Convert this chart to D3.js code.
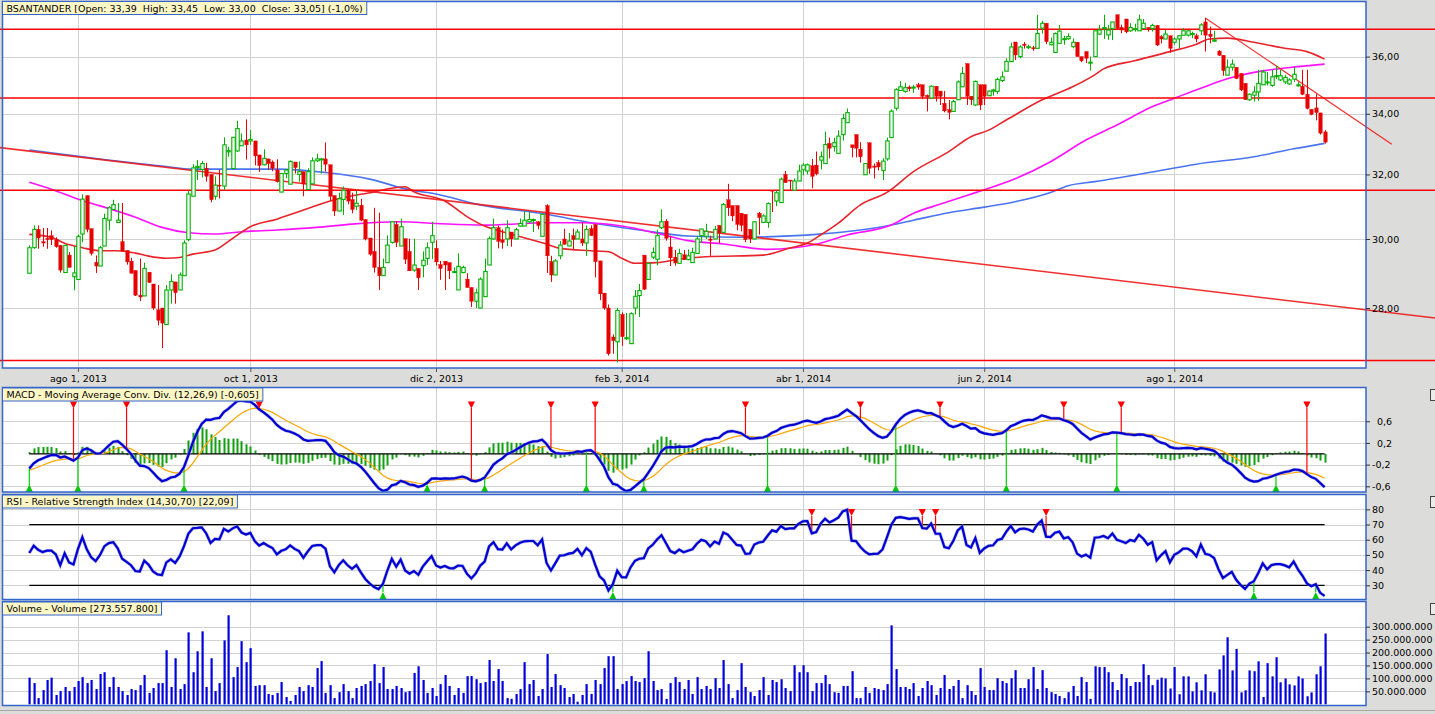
<!DOCTYPE html>
<html lang="es">
<head>
<meta charset="UTF-8">
<style>
  body { margin: 0; background: #dcdcda; }
  svg text { font-family: "DejaVu Sans", sans-serif; font-size: 9.5px; fill: #000; }
</style>
</head>
<body>
<div id="chart"></div>
<script src="https://cdnjs.cloudflare.com/ajax/libs/d3/7.8.5/d3.min.js"></script>
<script>
// ---- data ----
// daily candles: [open, high, low, close]
var candles = [
[28.99,29.81,28.99,29.74],[29.74,30.41,29.71,30.29],[30.29,30.41,29.71,30.03],[29.92,30.33,29.77,29.88],[30.02,30.33,29.71,29.98],
[30.10,30.26,29.82,29.98],[29.98,30.05,29.74,29.77],[29.81,29.81,29.01,29.08],[29.01,29.83,29.01,29.81],[29.52,29.61,29.16,29.16],
[28.89,29.79,28.50,29.00],[28.81,30.13,28.81,30.08],[30.15,31.37,29.90,31.22],[31.33,31.33,30.20,30.29],[30.31,30.31,29.51,29.57],
[29.31,29.51,29.00,29.20],[29.20,29.79,29.20,29.74],[29.79,30.77,29.79,30.62],[30.57,31.00,30.26,30.95],[30.90,31.20,30.90,31.05],
[30.50,31.10,30.49,30.57],[29.92,31.10,29.64,29.64],[29.66,29.66,29.24,29.32],[29.34,29.44,28.99,28.99],[29.07,29.07,28.34,28.36],
[28.36,29.42,28.20,28.31],[28.34,29.30,28.34,29.13],[29.02,29.02,28.72,28.72],[28.68,28.68,27.95,28.00],[27.95,28.65,27.52,27.66],
[28.00,28.00,26.90,27.58],[27.54,28.65,27.54,28.51],[28.51,28.96,28.12,28.75],[28.74,28.74,28.12,28.43],[28.51,29.01,28.51,28.94],
[28.92,29.96,28.92,29.88],[29.98,31.48,29.93,31.38],[31.31,32.33,31.31,32.21],[32.22,32.46,31.82,32.26],[32.16,32.43,31.90,32.35],
[32.19,32.37,31.77,31.94],[32.00,32.00,31.12,31.20],[31.31,31.94,31.20,31.66],[31.66,32.15,31.24,31.63],[31.63,33.21,31.51,32.96],
[32.73,32.90,32.57,32.77],[32.19,33.21,32.19,33.21],[32.76,33.76,32.73,33.50],[32.93,33.34,32.93,33.09],[33.12,33.81,32.48,32.96],
[33.09,33.45,32.96,33.14],[33.09,33.09,32.29,32.60],[32.63,32.63,32.08,32.29],[32.31,32.81,32.29,32.52],[32.50,32.50,32.15,32.35],
[32.40,32.45,32.10,32.20],[32.14,32.49,31.74,31.77],[31.44,32.03,31.44,32.03],[32.03,32.17,31.88,32.14],[31.69,32.45,31.69,32.42],
[32.40,32.40,32.03,32.22],[32.00,32.42,31.77,32.09],[32.09,32.09,31.31,31.70],[31.52,32.20,31.52,32.09],[31.70,32.55,31.70,32.44],
[32.44,32.67,32.40,32.50],[32.48,32.53,32.03,32.50],[32.50,33.04,32.09,32.33],[32.31,32.31,31.16,31.31],[31.33,31.33,30.70,30.85],
[30.85,31.42,30.85,31.23],[31.21,31.62,30.73,31.50],[31.50,31.54,31.06,31.16],[31.21,31.42,30.78,30.90],[31.00,31.48,30.88,31.09],
[31.03,31.23,30.54,30.57],[30.59,30.59,29.96,30.00],[30.03,30.03,29.50,29.55],[29.63,30.95,29.01,29.16],[29.16,30.80,28.51,28.92],
[28.92,29.42,28.92,29.16],[29.30,30.11,29.30,29.82],[29.90,30.54,29.86,30.52],[30.44,30.54,29.76,29.90],[29.79,30.62,29.79,30.37],
[30.01,30.01,29.26,29.40],[29.63,30.01,29.06,29.06],[29.08,30.01,29.03,29.23],[29.13,29.13,28.51,28.86],[29.21,29.63,28.87,29.37],
[29.42,29.90,29.23,29.74],[29.90,30.52,29.40,30.10],[29.72,29.96,29.21,29.32],[29.24,29.35,28.80,29.13],[29.34,29.34,28.51,29.23],
[29.30,29.30,28.82,29.06],[29.02,29.16,29.00,29.04],[28.51,29.57,28.51,29.19],[29.01,29.21,28.99,29.16],[28.82,28.99,28.58,28.58],
[28.58,28.58,28.03,28.19],[28.19,28.55,28.00,28.43],[28.00,28.87,28.00,28.82],[28.32,29.42,28.32,29.04],[29.23,30.08,29.23,30.01],
[30.00,30.62,29.98,30.34],[30.34,30.41,29.72,29.93],[29.98,30.29,29.71,29.90],[30.00,30.57,29.79,30.34],[30.21,30.21,29.77,30.00],
[30.00,30.34,30.00,30.28],[30.39,30.62,30.37,30.47],[30.39,30.85,30.39,30.57],[30.52,30.82,30.49,30.59],[30.57,30.62,30.21,30.59],
[30.52,30.54,30.29,30.41],[30.08,30.75,30.08,30.75],[31.02,31.06,29.00,29.50],[29.33,29.50,28.74,28.94],[28.94,29.40,28.94,29.35],
[29.50,29.94,29.40,29.82],[30.00,30.31,29.84,29.84],[29.79,30.18,29.79,29.94],[30.10,30.31,29.69,29.98],[30.00,30.29,30.00,30.21],
[30.00,30.51,29.79,29.88],[29.88,30.41,29.50,30.29],[30.31,30.41,30.10,30.10],[30.44,30.44,28.87,29.33],[29.35,29.35,28.22,28.40],
[28.42,28.42,27.95,28.00],[28.00,28.10,26.70,26.75],[27.20,27.27,26.75,27.10],[27.07,28.00,26.52,27.93],[27.82,27.88,26.96,27.21],
[27.16,27.86,27.12,27.18],[27.02,27.88,27.02,27.84],[28.00,28.51,27.82,28.33],[28.35,28.68,27.75,28.49],[29.52,29.52,28.51,28.53],
[28.81,29.28,28.81,29.28],[29.46,29.75,29.40,29.60],[29.40,30.28,29.22,30.10],[30.34,30.90,30.30,30.52],[30.54,30.60,29.95,30.02],
[29.76,30.10,29.20,29.44],[29.46,29.67,29.21,29.29],[29.28,29.71,29.28,29.57],[29.53,29.67,29.38,29.39],[29.39,29.69,29.37,29.50],
[29.30,29.74,29.30,29.60],[29.57,30.08,29.55,30.00],[30.10,30.31,29.88,30.30],[30.08,30.46,30.00,30.23],[30.00,30.10,29.50,29.96],
[30.00,30.39,30.00,30.29],[30.41,30.41,29.88,30.18],[30.20,31.10,30.20,31.05],[31.20,31.70,30.70,30.95],[31.02,31.02,30.54,30.70],
[31.02,31.02,30.26,30.44],[30.78,30.78,30.23,30.41],[30.75,30.75,29.90,29.98],[30.29,30.29,29.88,30.00],[30.00,30.54,30.00,30.52],
[30.78,30.82,30.13,30.65],[30.50,30.75,30.50,30.70],[30.50,31.12,30.34,31.08],[31.50,31.50,30.82,31.47],[31.16,31.50,31.00,31.42],
[31.11,31.90,31.11,31.85],[32.00,32.11,31.74,31.74],[31.82,31.82,31.50,31.79],[31.50,31.87,31.50,31.79],[31.79,32.31,31.79,32.11],
[32.15,32.37,31.97,32.30],[32.11,32.35,32.00,32.31],[32.28,32.50,31.56,31.94],[32.30,32.74,31.97,32.02],[32.46,32.74,32.16,32.57],
[32.35,33.40,32.35,32.97],[33.01,33.20,32.52,32.85],[32.90,33.20,32.74,33.03],[32.68,33.44,32.68,33.25],[33.30,34.00,33.10,33.84],
[33.70,34.18,33.70,34.04],[32.96,32.96,32.55,32.87],[33.30,33.30,32.55,32.85],[32.82,33.05,32.38,32.57],[31.99,32.35,31.99,32.35],
[33.03,33.03,32.02,32.20],[32.27,32.35,31.87,32.23],[32.38,32.46,32.13,32.24],[32.13,32.52,31.82,32.43],[32.50,33.20,32.44,33.09],
[33.20,34.15,33.20,34.09],[34.19,34.88,34.11,34.83],[34.80,35.12,34.80,34.93],[34.77,35.07,34.72,34.90],[34.92,34.98,34.77,34.86],
[34.90,35.00,34.72,34.92],[35.00,35.07,34.83,34.92],[35.00,35.00,34.50,34.60],[34.63,34.66,34.08,34.58],[34.54,34.98,34.54,34.95],
[34.95,34.95,34.42,34.60],[34.78,34.78,34.30,34.60],[34.36,34.78,34.05,34.10],[34.14,34.47,33.81,34.05],[34.08,34.48,34.08,34.42],
[34.48,35.15,34.48,35.10],[34.93,35.63,34.93,35.40],[35.75,35.75,34.30,34.60],[34.60,34.60,34.30,34.48],[34.30,35.15,34.27,35.12],
[35.00,35.00,34.13,34.30],[35.00,35.00,34.30,34.60],[34.62,34.80,34.62,34.78],[34.78,34.86,34.62,34.82],[34.77,35.25,34.68,35.19],
[35.15,35.47,35.10,35.28],[35.48,35.94,35.48,35.83],[35.82,36.51,35.82,36.35],[36.53,36.53,35.88,36.06],[36.00,36.41,35.94,36.35],
[36.45,36.53,36.29,36.40],[36.34,36.43,36.27,36.36],[36.32,36.39,36.20,36.28],[36.30,37.54,36.30,36.84],[37.04,37.31,36.84,37.22],
[37.22,37.22,36.45,36.54],[36.43,36.69,36.41,36.52],[36.15,36.88,36.15,36.84],[36.48,37.16,36.48,36.93],[36.63,36.76,36.43,36.65],
[36.65,36.85,36.61,36.73],[36.36,36.66,36.30,36.52],[36.52,36.52,36.00,36.00],[36.00,36.00,35.80,35.85],[36.18,36.20,35.77,35.94],
[35.78,36.00,35.50,35.80],[36.00,36.94,36.00,36.94],[36.82,37.16,36.79,36.97],[37.02,37.54,36.64,37.06],[36.79,37.16,36.61,36.97],
[37.02,37.27,36.60,37.27],[37.54,37.54,36.97,37.03],[37.07,37.17,36.85,36.97],[37.38,37.38,36.85,36.90],[36.94,37.22,36.91,37.06],
[37.00,37.20,36.91,37.02],[36.94,37.54,36.94,37.35],[37.02,37.38,37.02,37.22],[37.07,37.07,36.91,37.02],[37.02,37.20,36.91,37.14],
[37.14,37.14,36.38,36.42],[36.73,36.78,36.48,36.64],[36.64,36.97,36.64,36.82],[36.76,36.76,36.14,36.30],[36.52,36.70,36.43,36.64],
[36.64,36.76,36.30,36.76],[36.78,37.04,36.78,36.94],[36.78,36.97,36.73,36.94],[36.82,36.91,36.67,36.84],[36.76,36.84,36.52,36.64],
[36.94,37.22,36.78,37.16],[37.27,37.42,36.18,36.78],[36.82,37.10,36.48,36.73],[36.56,36.94,36.54,36.60],[36.20,36.23,36.03,36.05],
[36.05,36.05,35.32,35.50],[35.34,35.90,35.34,35.62],[35.62,35.90,35.50,35.73],[35.62,35.62,35.20,35.22],[35.40,35.40,34.78,34.82],
[35.05,35.05,34.48,34.48],[34.48,34.70,34.44,34.67],[34.64,34.95,34.42,34.75],[34.75,35.53,34.44,35.05],[35.00,35.53,35.00,35.45],
[35.07,35.45,34.98,35.10],[34.98,35.53,34.93,35.28],[35.30,35.68,35.20,35.32],[35.17,35.53,35.13,35.32],[35.10,35.35,35.03,35.26],
[35.03,35.23,35.00,35.17],[35.20,35.62,35.10,35.37],[34.98,35.10,34.93,35.00],[34.95,35.53,34.64,34.67],[34.67,35.53,34.15,34.18],
[34.15,34.15,33.95,33.98],[34.20,34.67,33.78,34.04],[34.03,34.03,33.30,33.35],[33.39,33.45,33.00,33.05]
];

// daily volume, millions of shares
var volume = [
103,82,24,55,94,103,36,51,67,51, 67,90,105,82,94,59,117,124,67,105,
67,51,36,59,55,74,113,44,63,82, 82,209,67,178,59,78,278,124,205,282,
67,178,51,82,247,344,105,144,244,163, 217,71,74,74,40,36,44,86,28,13,
36,67,51,74,67,140,167,44,74,24, 47,78,51,24,63,71,78,90,155,82,
144,59,59,71,63,47,51,121,147,94, 44,63,32,78,113,71,36,63,44,109,
109,97,82,86,171,90,136,90,24,21, 40,59,163,78,94,32,59,194,67,117,
74,63,28,40,10,36,78,40,94,78, 140,186,186,59,78,90,109,90,86,101,
205,90,55,59,21,82,105,86,59,94, 40,105,59,71,59,101,63,171,78,24,
55,159,67,47,32,55,105,36,94,86, 97,63,51,151,124,151,124,51,82,82,
113,78,47,44,71,71,128,24,24,67, 44,63,59,55,78,305,136,67,67,59,
82,32,63,90,74,36,63,113,59,71, 94,24,74,51,36,140,67,55,55,101,
90,82,101,132,63,63,97,144,59,132, 63,47,40,32,24,47,71,32,105,86,
21,147,144,144,124,86,55,117,101,71, 86,86,155,113,74,95,103,100,61,144,
39,108,108,50,85,54,116,50,46,135, 189,259,131,214,46,54,131,128,166,28,
159,108,182,85,100,77,73,108,100,31, 46,116,147,273.5578
];

// moving averages, [candle index, price]
var ma50 = [[0,30.14],[5,30.05],[8,29.87],[12,29.74],[16,29.65],[20,29.65],[24,29.58],[27,29.49],[31,29.43],[34,29.45],[37,29.55],
  [42,29.67],[46,30.02],[50,30.37],[56,30.6],[62,30.88],[69,31.2],[77,31.42],[85,31.61],[87,31.45],[94,31.16],[99,30.68],[103,30.39],
  [107,30.22],[117,29.85],[120,29.72],[127,29.65],[131,29.62],[134,29.43],[137,29.28],[142,29.3],[147,29.4],[153,29.47],[166,29.52],
  [172,29.73],[176,29.88],[179,30.12],[183,30.48],[188,31.04],[194,31.43],[200,32.09],[208,32.74],[213,33.23],[217,33.45],[221,33.79],
  [229,34.47],[236,34.93],[241,35.35],[243,35.56],[250,35.85],[258,36.18],[264,36.45],[267,36.64],[271,36.67],[277,36.52],[284,36.3],
  [289,36.18],[293,35.91]];
var ma100 = [[0,31.75],[5,31.53],[12,31.17],[16,31.01],[24,30.66],[30,30.35],[36,30.19],[42,30.15],[48,30.22],[56,30.27],[65,30.35],
  [73,30.45],[84,30.52],[92,30.47],[103,30.42],[117,30.49],[125,30.49],[134,30.39],[142,30.17],[149,29.95],[157,29.85],[167,29.69],
  [178,29.84],[185,30.12],[195,30.42],[200,30.78],[206,31.06],[216,31.51],[223,31.86],[231,32.41],[239,33.12],[246,33.62],[254,34.24],
  [259,34.53],[265,34.88],[271,35.21],[279,35.49],[287,35.64],[293,35.73]];
var ma200 = [[0,32.79],[16,32.5],[30,32.27],[37,32.17],[56,32.17],[67,32.06],[77,31.85],[86,31.51],[92,31.38],[102,31.04],[117,30.75],
  [127,30.49],[138,30.27],[149,30.09],[161,30.05],[168,30.07],[178,30.14],[193,30.37],[200,30.57],[208,30.8],[216,30.97],[223,31.14],
  [231,31.43],[235,31.64],[241,31.77],[254,32.08],[264,32.33],[277,32.57],[286,32.83],[293,33.01]];

// drawn objects on the price panel
var priceLevels = [37.0, 34.54, 31.5, 26.57];
var trendLines = [[[-6.63, 32.87], [318, 27.72]], [[266, 37.42], [308.2, 32.98]]];

// signal markers (candle index)
var macdSells = [10, 22, 52, 100, 118, 128, 162, 188, 206, 234, 247, 289];
var macdBuys = [0, 11, 35, 90, 103, 126, 139, 167, 196, 221, 246, 282];
var rsiSells = [177, 186, 202, 205, 230];
var rsiBuys = [80, 132, 277, 291];

// indicator starting state (history before the first candle)
var macdSeed = { ema12: 29.35, ema26: 29.62, signal: -0.30 };
var rsiSeed = { gain: 0.20, loss: 0.19 };

// axes
var dateTicks = ["ago 1, 2013", "oct 1, 2013", "dic 2, 2013", "feb 3, 2014", "abr 1, 2014", "jun 2, 2014", "ago 1, 2014"];
var dateTickIdx = [11, 50, 92, 134, 175, 216, 259];
var priceTicks = [28, 30, 32, 34, 36];
var macdTicks = [-0.6, -0.2, 0.2, 0.6];
var rsiTicks = [30, 40, 50, 60, 70, 80];
var volTicks = [50, 100, 150, 200, 250, 300];

var titleMain = "BSANTANDER [Open: 33,39  High: 33,45  Low: 33,00  Close: 33,05] (-1,0%)";
var titleMacd = "MACD - Moving Average Conv. Div. (12,26,9) [-0,605]";
var titleRsi = "RSI - Relative Strength Index (14,30,70) [22,09]";
var titleVol = "Volume - Volume [273.557.800]";

// ---- indicators ----
var closes = candles.map(function (d) { return d[3]; });
var macd = [], signal = [], hist = [], rsi = [];
(function () {
    var k12 = 2 / 13, k26 = 2 / 27, k9 = 2 / 10;
    var e12 = macdSeed.ema12, e26 = macdSeed.ema26, sig = macdSeed.signal;
    var ag = rsiSeed.gain, al = rsiSeed.loss;
    closes.forEach(function (c, i) {
        if (i > 0) {
            e12 += k12 * (c - e12);
            e26 += k26 * (c - e26);
            var ch = c - closes[i - 1];
            ag = (ag * 13 + Math.max(ch, 0)) / 14;
            al = (al * 13 + Math.max(-ch, 0)) / 14;
        }
        var m = e12 - e26;
        if (i > 0) sig += k9 * (m - sig);
        macd.push(m); signal.push(sig); hist.push(m - sig);
        rsi.push(100 - 100 / (1 + ag / al));
    });
})();

// ---- layout ----
var W = 1435, H = 714;
var left = 2.5, right = 1366;
var pMain = [1.5, 368], pMacd = [387.5, 492], pRsi = [494.5, 599.5], pVol = [601.5, 705.5];
var N = candles.length;

var green = "#00b000", red = "#e60000", border = "#3366cc", grid = "#d2d2d2";

var svg = d3.select("#chart").append("svg")
    .attr("width", W).attr("height", H);

svg.append("rect").attr("width", W).attr("height", H).attr("fill", "#dcdcda");

var x = d3.scaleLinear().domain([0, N - 1]).range([29.3, 1324.6]);
var yP = d3.scaleLog().domain([26.37, 38.02]).range([368, 2]);
var yM = d3.scaleLinear().domain([-0.705, 1.227]).range([492, 387.3]);
var yR = d3.scaleLinear().domain([20.8, 89.9]).range([599.3, 494.3]);
var yV = d3.scaleLinear().domain([0, 398]).range([704.3, 601.3]);

function panelBg(p) {
    svg.append("rect").attr("x", left).attr("y", p[0])
        .attr("width", right - left).attr("height", p[1] - p[0])
        .attr("fill", "#fff");
    svg.append("g").selectAll("line").data(dateTickIdx).enter().append("line")
        .attr("x1", function (d) { return Math.round(x(d)) + 0.5; })
        .attr("x2", function (d) { return Math.round(x(d)) + 0.5; })
        .attr("y1", p[0]).attr("y2", p[1])
        .attr("stroke", grid).attr("stroke-width", 1);
}
function hGrid(ticks, y) {
    svg.append("g").selectAll("line").data(ticks).enter().append("line")
        .attr("x1", left).attr("x2", right)
        .attr("y1", function (d) { return Math.round(y(d)) + 0.5; })
        .attr("y2", function (d) { return Math.round(y(d)) + 0.5; })
        .attr("stroke", grid).attr("stroke-width", 1);
}
function panelBorder(p) {
    svg.append("rect").attr("x", left).attr("y", p[0])
        .attr("width", right - left).attr("height", p[1] - p[0])
        .attr("fill", "none").attr("stroke", border).attr("stroke-width", 1.5);
}
function titleBox(txt, yTop) {
    var g = svg.append("g");
    var r = g.append("rect").attr("x", 2.5).attr("y", yTop).attr("height", 13)
        .attr("fill", "#fff8c6").attr("stroke", border).attr("stroke-width", 1);
    var t = g.append("text").attr("x", 6.5).attr("y", yTop + 10)
        .style("white-space", "pre").text(txt);
    r.attr("width", t.node().getComputedTextLength() + 8);
}
function rightAxis(scale, ticks, fmt) {
    var g = svg.append("g").attr("transform", "translate(" + right + ",0)")
        .call(d3.axisRight(scale).tickValues(ticks).tickSize(4).tickPadding(2).tickFormat(fmt));
    g.select(".domain").remove();
    g.selectAll("line").attr("stroke", "#333");
    g.selectAll("text").style("font-family", '"DejaVu Sans", sans-serif').style("font-size", "9.5px");
    return g;
}

// ---- price panel ----
panelBg(pMain);
hGrid(priceTicks, yP);

var line = d3.line().x(function (d) { return x(d[0]); }).y(function (d) { return yP(d[1]); })
    .curve(d3.curveMonotoneX);

svg.append("path").datum(ma200).attr("d", line).attr("fill", "none")
    .attr("stroke", "#4a74f0").attr("stroke-width", 1.6);
svg.append("path").datum(ma100).attr("d", line).attr("fill", "none")
    .attr("stroke", "#ff10ff").attr("stroke-width", 1.6);
svg.append("path").datum(ma50).attr("d", line).attr("fill", "none")
    .attr("stroke", "#e8242a").attr("stroke-width", 1.6);

svg.append("g").selectAll("line").data(trendLines).enter().append("line")
    .attr("x1", function (d) { return x(d[0][0]); }).attr("y1", function (d) { return yP(d[0][1]); })
    .attr("x2", function (d) { return x(d[1][0]); }).attr("y2", function (d) { return yP(d[1][1]); })
    .attr("stroke", "#f01818").attr("stroke-width", function (d, i) { return i === 0 ? 1.6 : 1.2; })
    .attr("stroke-opacity", 0.9);

svg.append("g").selectAll("line").data(priceLevels).enter().append("line")
    .attr("x1", 0).attr("x2", W)
    .attr("y1", function (d) { return yP(d); }).attr("y2", function (d) { return yP(d); })
    .attr("stroke", "#ff0000").attr("stroke-width", 1.5);

var cg = svg.append("g").selectAll("g").data(candles).enter().append("g");
cg.append("line")
    .attr("x1", function (d, i) { return Math.round(x(i)) + 0.5; })
    .attr("x2", function (d, i) { return Math.round(x(i)) + 0.5; })
    .attr("y1", function (d) { return yP(d[1]); })
    .attr("y2", function (d) { return yP(d[2]); })
    .attr("stroke", function (d) { return d[3] >= d[0] ? green : red; })
    .attr("stroke-width", 1);
cg.append("rect")
    .attr("x", function (d, i) { return Math.round(x(i)) - 1.2; })
    .attr("width", 3.4)
    .attr("y", function (d) { return yP(Math.max(d[0], d[3])); })
    .attr("height", function (d) { return Math.max(1, yP(Math.min(d[0], d[3])) - yP(Math.max(d[0], d[3]))); })
    .attr("fill", function (d) { return d[3] >= d[0] ? "#fff" : red; })
    .attr("stroke", function (d) { return d[3] >= d[0] ? green : red; })
    .attr("stroke-width", function (d) { return d[3] >= d[0] ? 1.1 : 0.4; });

panelBorder(pMain);
titleBox(titleMain, 1.5);
rightAxis(yP, priceTicks, function (d) { return d.toFixed(2).replace(".", ","); });

var xa = svg.append("g").attr("transform", "translate(0," + pMain[1] + ")")
    .call(d3.axisBottom(x).tickValues(dateTickIdx).tickSize(4).tickPadding(3)
        .tickFormat(function (d, i) { return dateTicks[i]; }));
xa.select(".domain").remove();
xa.selectAll("line").attr("stroke", "#555");
xa.selectAll("text").style("font-family", '"DejaVu Sans", sans-serif').style("font-size", "9.5px");

// ---- MACD panel ----
panelBg(pMacd);
hGrid(macdTicks, yM);
svg.append("g").selectAll("rect").data(hist).enter().append("rect")
    .attr("x", function (d, i) { return Math.round(x(i)) - 0.5; })
    .attr("width", 2)
    .attr("y", function (d) { return Math.min(yM(d), yM(0)); })
    .attr("height", function (d) { return Math.abs(yM(d) - yM(0)); })
    .attr("fill", "#10a010");
svg.append("line").attr("x1", x(0)).attr("x2", x(N - 1))
    .attr("y1", yM(0)).attr("y2", yM(0)).attr("stroke", "#000").attr("stroke-width", 1.3);

var mLine = d3.line().x(function (d, i) { return x(i); }).y(function (d) { return yM(d); });
svg.append("path").datum(signal).attr("d", mLine).attr("fill", "none")
    .attr("stroke", "#ffa500").attr("stroke-width", 1.2);

svg.append("g").selectAll("line").data(macdSells).enter().append("line")
    .attr("x1", function (d) { return x(d); }).attr("x2", function (d) { return x(d); })
    .attr("y1", 408).attr("y2", function (d) { return yM(macd[d]); })
    .attr("stroke", "#ff0000").attr("stroke-width", 1.2);
svg.append("g").selectAll("line").data(macdBuys).enter().append("line")
    .attr("x1", function (d) { return x(d); }).attr("x2", function (d) { return x(d); })
    .attr("y1", 485).attr("y2", function (d) { return yM(macd[d]); })
    .attr("stroke", "#00d000").attr("stroke-width", 1.2);

svg.append("path").datum(macd).attr("d", mLine).attr("fill", "none")
    .attr("stroke", "#8c8ce8").attr("stroke-width", 3.4).attr("stroke-opacity", 0.6);
svg.append("path").datum(macd).attr("d", mLine).attr("fill", "none")
    .attr("stroke", "#0000d0").attr("stroke-width", 2.2);

function downTri(cx, top) { return "M" + (cx - 3.6) + "," + top + "L" + (cx + 3.6) + "," + top + "L" + cx + "," + (top + 7) + "Z"; }
function upTri(cx, base) { return "M" + (cx - 3.6) + "," + base + "L" + (cx + 3.6) + "," + base + "L" + cx + "," + (base - 7.5) + "Z"; }

svg.append("g").selectAll("path").data(macdSells).enter().append("path")
    .attr("d", function (d) { return downTri(x(d), 401.5); }).attr("fill", "#ff0000");
svg.append("g").selectAll("path").data(macdBuys).enter().append("path")
    .attr("d", function (d) { return upTri(x(d), 492); }).attr("fill", "#00c800");

panelBorder(pMacd);
titleBox(titleMacd, 388);
var ma = rightAxis(yM, macdTicks, function (d) { return d3.format(".1f")(d).replace("−", "-").replace(".", ","); });
ma.selectAll("text").attr("x", function (d) { return d < 0 ? 6 : 11; });

// ---- RSI panel ----
panelBg(pRsi);
hGrid(rsiTicks, yR);
svg.append("g").selectAll("line").data([70, 30]).enter().append("line")
    .attr("x1", x(0)).attr("x2", x(N - 1))
    .attr("y1", function (d) { return yR(d); }).attr("y2", function (d) { return yR(d); })
    .attr("stroke", "#000").attr("stroke-width", 1.2);

svg.append("g").selectAll("line").data(rsiSells).enter().append("line")
    .attr("x1", function (d) { return x(d); }).attr("x2", function (d) { return x(d); })
    .attr("y1", 516).attr("y2", function (d) { return yR(rsi[d]); })
    .attr("stroke", "#ff0000").attr("stroke-width", 1.2);
svg.append("g").selectAll("line").data(rsiBuys).enter().append("line")
    .attr("x1", function (d) { return x(d); }).attr("x2", function (d) { return x(d); })
    .attr("y1", 592).attr("y2", function (d) { return yR(rsi[d]); })
    .attr("stroke", "#00d000").attr("stroke-width", 1.2);

var rLine = d3.line().x(function (d, i) { return x(i); }).y(function (d) { return yR(d); });
svg.append("path").datum(rsi).attr("d", rLine).attr("fill", "none")
    .attr("stroke", "#8c8ce8").attr("stroke-width", 3.4).attr("stroke-opacity", 0.6);
svg.append("path").datum(rsi).attr("d", rLine).attr("fill", "none")
    .attr("stroke", "#0000d0").attr("stroke-width", 2.2);

svg.append("g").selectAll("path").data(rsiSells).enter().append("path")
    .attr("d", function (d) { return downTri(x(d), 509); }).attr("fill", "#ff0000");
svg.append("g").selectAll("path").data(rsiBuys).enter().append("path")
    .attr("d", function (d) { return upTri(x(d), 599.5); }).attr("fill", "#00c800");

panelBorder(pRsi);
titleBox(titleRsi, 495);
rightAxis(yR, rsiTicks, function (d) { return d; });

// ---- volume panel ----
panelBg(pVol);
hGrid(volTicks, yV);
svg.append("g").selectAll("rect").data(volume).enter().append("rect")
    .attr("x", function (d, i) { return Math.round(x(i)) - 0.5; })
    .attr("width", 2.2)
    .attr("y", function (d) { return yV(d); })
    .attr("height", function (d) { return yV(0) - yV(d); })
    .attr("fill", "#0000dc");
panelBorder(pVol);
titleBox(titleVol, 602);
rightAxis(yV, volTicks, function (d) { return d3.format(",")(d * 1e6).replace(/,/g, "."); });

// small panel buttons on the right edge
svg.append("g").selectAll("rect").data([pMacd[0], pRsi[0], pVol[0]]).enter().append("rect")
    .attr("x", 1430.5).attr("y", function (d) { return d + 2; })
    .attr("width", 9).attr("height", 11)
    .attr("fill", "#ececec").attr("stroke", "#444").attr("stroke-width", 1);

svg.append("line").attr("x1", 0).attr("x2", W).attr("y1", 710.5).attr("y2", 710.5)
    .attr("stroke", "#a8a8a8").attr("stroke-width", 1);
</script>
</body>
</html>
